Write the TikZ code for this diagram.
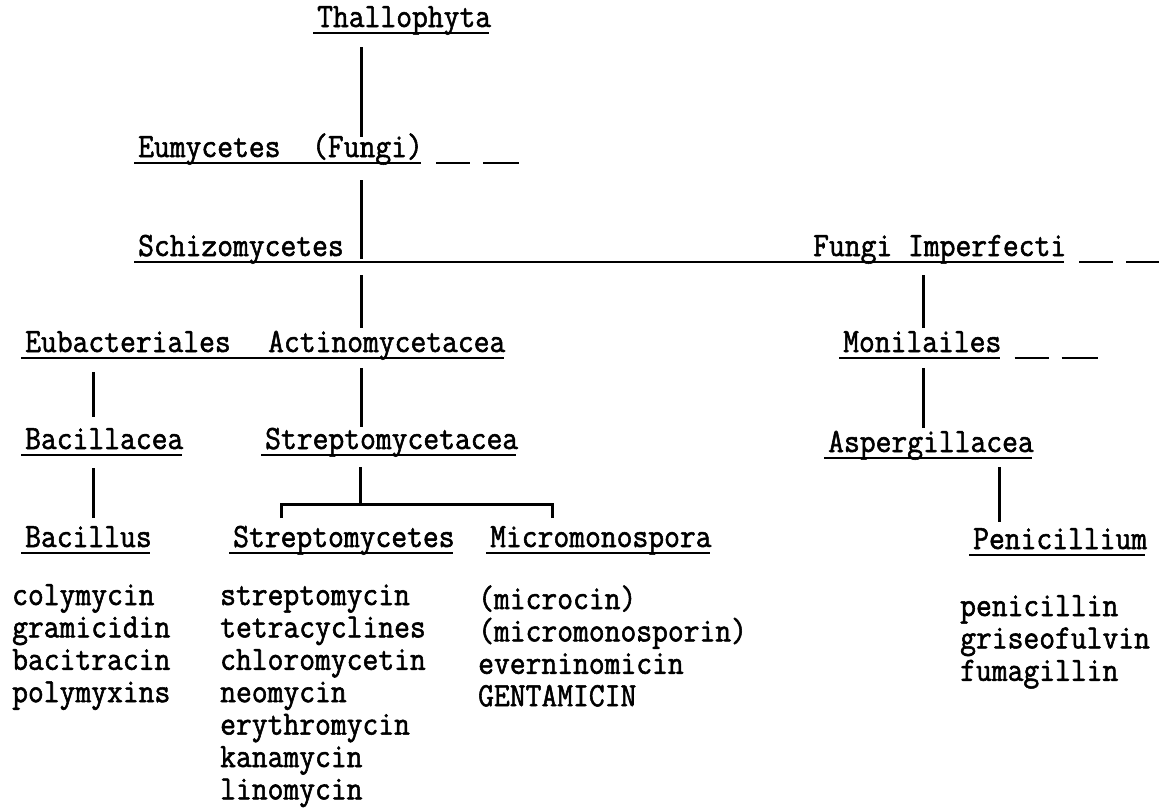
\documentclass[tikz,border=0pt]{standalone}
\usepackage{fontspec}
\setmonofont{Latin Modern Mono}[FakeBold=1.6, FakeStretch=0.903]
\usepackage{tikz}
\newcommand{\tw}{\fontsize{34}{32.4}\selectfont\ttfamily}
\newcommand{\trail}[1]{\draw[rule] (#1.south east) ++(13,0) -- ++(34,0) ++(13,0) -- ++(36,0);}

\begin{document}
\begin{tikzpicture}[x=1pt, y=-1pt,
		taxon/.style={anchor=base west, inner sep=0pt, text height=20pt, text depth=6pt, font=\tw},
		ul/.style={taxon, append after command={([xshift=-4pt]\tikzlastnode.south west) edge[rule] ([xshift=-2pt]\tikzlastnode.south east)}},
		drug/.style={anchor=base west, inner sep=0pt, font=\tw},
		rule/.style={line width=1.8pt},
		link/.style={line width=3pt, shorten <=12pt, shorten >=4pt}]
			\useasboundingbox (0,0) rectangle (1159,809);
			\def\row{32.4}
			% columns of the connectors
			\coordinate (trunk) at (361,0);
			\coordinate (lcol) at (93,0);
			\coordinate (rcol) at (923,0);
			\coordinate (pcol) at (999,0);
			\coordinate (fork) at (360,504);
			\coordinate (forkl) at (281,518);
			\coordinate (forkr) at (552,518);
			% taxa
			\node[ul] (thal) at (317,27) {Thallophyta};
			\node[ul] (eumy) at (138,157) {Eumycetes~~(Fungi)};
			\node[taxon] (schiz) at (138,256) {Schizomycetes};
			\node[taxon] (fimp) at (813,256) {Fungi Imperfecti};
			\node[taxon] (eubac) at (25,352) {Eubacteriales};
			\node[taxon] (actino) at (268,352) {Actinomycetacea};
			\node[ul] (monil) at (843,352) {Monilailes};
			\node[ul] (bacfam) at (25,449) {Bacillacea};
			\node[ul] (strfam) at (265,449) {Streptomycetacea};
			\node[ul] (asperg) at (828,452) {Aspergillacea};
			\node[ul] (bacil) at (25,547) {Bacillus};
			\node[ul] (strep) at (233,547) {Streptomycetes};
			\node[ul] (micro) at (490,547) {Micromonospora};
			\node[ul] (penic) at (973,549) {Penicillium};
			\draw[rule] ([xshift=-4pt]schiz.south west) -- ([xshift=-2pt]fimp.south east);
			\draw[rule] ([xshift=-4pt]eubac.south west) -- ([xshift=-2pt]actino.south east);
			\trail{eumy}
			\trail{fimp}
			\trail{monil}
			% connectors
			\draw[link, shorten <=14pt, shorten >=0pt] (thal.south -| trunk) -- (eumy.north -| trunk);
			\draw[link, shorten <=17pt, shorten >=3pt] (eumy.south -| trunk) -- (schiz.south -| trunk);
			\draw[link, shorten <=13pt] (schiz.south -| trunk) -- (actino.north -| trunk);
			\draw[link, shorten <=13pt] (fimp.south -| rcol) -- (monil.north -| rcol);
			\draw[link, shorten <=14pt, shorten >=12pt] (eubac.south -| lcol) -- (bacfam.north -| lcol);
			\draw[link, shorten <=10pt, shorten >=2pt] (actino.south -| trunk) -- (strfam.north -| trunk);
			\draw[link, shorten <=10pt] (monil.south -| rcol) -- (asperg.north -| rcol);
			\draw[link, shorten <=13pt, shorten >=9pt] (bacfam.south -| lcol) -- (bacil.north -| lcol);
			\draw[link, shorten >=0pt] (strfam.south -| fork) -- (fork);
			\draw[link, shorten <=0pt, shorten >=0pt] (forkl) |- (fork) -| (forkr);
			\draw[link, shorten <=9pt, shorten >=7pt] (asperg.south -| pcol) -- (penic.north -| pcol);
			% antibiotics
			\foreach \d [count=\i from 0] in {colymycin,gramicidin,bacitracin,polymyxins} {
				\node[drug] (bd\i) at (12,{605+\row*\i}) {\d};
			}
			\foreach \d [count=\i from 0] in {streptomycin,tetracyclines,chloromycetin,neomycin,erythromycin,kanamycin,linomycin} {
				\node[drug] (sd\i) at (220,{605+\row*\i}) {\d};
			}
			\foreach \d [count=\i from 0] in {(microcin),(micromonosporin),everninomicin,GENTAMICIN} {
				\node[drug] (md\i) at (478,{609+\row*\i}) {\d};
			}
			\foreach \d [count=\i from 0] in {penicillin,griseofulvin,fumagillin} {
				\node[drug] (pd\i) at (960,{616+\row*\i}) {\d};
			}
		\end{tikzpicture}
\end{document}
